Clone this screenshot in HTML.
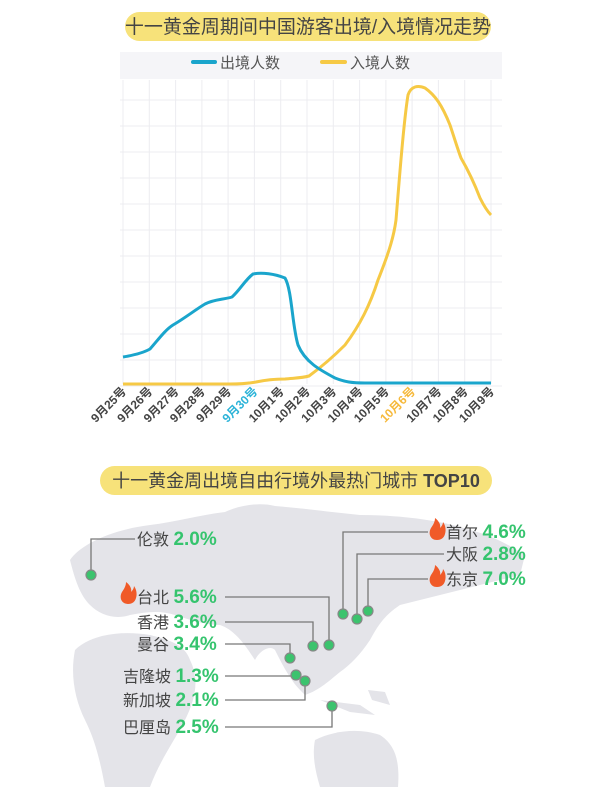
<!DOCTYPE html>
<html><head><meta charset="utf-8"><style>
html,body{margin:0;padding:0;background:#fff;}
svg{display:block;font-family:"Liberation Sans","Noto Sans CJK SC",sans-serif;}
</style></head><body>
<svg width="600" height="787" viewBox="0 0 600 787" xmlns="http://www.w3.org/2000/svg">
<rect x="125" y="12" width="366" height="29" rx="14.5" fill="#f7e27a"/>
<text x="308" y="33" font-size="19" fill="#444" text-anchor="middle">十一黄金周期间中国游客出境/入境情况走势</text>
<rect x="120" y="52" width="382" height="27" fill="#f5f5f8"/>
<line x1="193" y1="62" x2="215" y2="62" stroke="#1aa5cc" stroke-width="4" stroke-linecap="round"/>
<text x="220" y="68" font-size="15" fill="#555">出境人数</text>
<line x1="322" y1="62" x2="345" y2="62" stroke="#f6c945" stroke-width="4" stroke-linecap="round"/>
<text x="350" y="68" font-size="15" fill="#555">入境人数</text>
<g stroke="#ececf0" stroke-width="1">
<line x1="123" y1="80" x2="123" y2="384"/><line x1="149.3" y1="80" x2="149.3" y2="384"/><line x1="175.6" y1="80" x2="175.6" y2="384"/><line x1="201.9" y1="80" x2="201.9" y2="384"/><line x1="228.1" y1="80" x2="228.1" y2="384"/><line x1="254.4" y1="80" x2="254.4" y2="384"/><line x1="280.7" y1="80" x2="280.7" y2="384"/><line x1="307" y1="80" x2="307" y2="384"/><line x1="333.3" y1="80" x2="333.3" y2="384"/><line x1="359.6" y1="80" x2="359.6" y2="384"/><line x1="385.9" y1="80" x2="385.9" y2="384"/><line x1="412.1" y1="80" x2="412.1" y2="384"/><line x1="438.4" y1="80" x2="438.4" y2="384"/><line x1="464.7" y1="80" x2="464.7" y2="384"/><line x1="491" y1="80" x2="491" y2="384"/>
<line x1="120" y1="100" x2="502" y2="100"/><line x1="120" y1="126" x2="502" y2="126"/><line x1="120" y1="152" x2="502" y2="152"/><line x1="120" y1="178" x2="502" y2="178"/><line x1="120" y1="204" x2="502" y2="204"/><line x1="120" y1="230" x2="502" y2="230"/><line x1="120" y1="256" x2="502" y2="256"/><line x1="120" y1="282" x2="502" y2="282"/><line x1="120" y1="308" x2="502" y2="308"/><line x1="120" y1="334" x2="502" y2="334"/><line x1="120" y1="360" x2="502" y2="360"/><line x1="120" y1="386" x2="502" y2="386"/>
</g>
<path d="M123,384 L230,384 C245,384 250,383 256,382 C265,380 272,379 285,379 C295,378 302,378 309,376 C320,368 330,360 345,345 C360,325 370,305 378,280 C390,250 394,235 396,220 C400,170 404,120 408,95 C411,86 418,85 425,88 C435,95 442,105 450,125 C455,140 458,150 461,158 C468,170 475,185 480,198 C485,208 488,212 491,215" fill="none" stroke="#f6c945" stroke-width="3" stroke-linejoin="round"/>
<path d="M123,357 C135,355 143,353 150,349 C158,340 165,330 173,325 C185,318 195,310 205,304 C215,299 222,300 232,297 C240,290 245,280 253,274 C262,272 275,274 285,278 C292,290 292,325 298,345 C305,362 320,370 335,378 C345,382 352,383 365,383 L491,383" fill="none" stroke="#1aa5cc" stroke-width="3" stroke-linejoin="round"/>
<g font-size="12" fill="#444" text-anchor="end" font-weight="bold">
<text transform="translate(127,392) rotate(-45)">9月25号</text>
<text transform="translate(153.3,392) rotate(-45)">9月26号</text>
<text transform="translate(179.6,392) rotate(-45)">9月27号</text>
<text transform="translate(205.9,392) rotate(-45)">9月28号</text>
<text transform="translate(232.1,392) rotate(-45)">9月29号</text>
<text transform="translate(258.4,392) rotate(-45)" fill="#2bb3d8">9月30号</text>
<text transform="translate(284.7,392) rotate(-45)">10月1号</text>
<text transform="translate(311,392) rotate(-45)">10月2号</text>
<text transform="translate(337.3,392) rotate(-45)">10月3号</text>
<text transform="translate(363.6,392) rotate(-45)">10月4号</text>
<text transform="translate(389.9,392) rotate(-45)">10月5号</text>
<text transform="translate(416.1,392) rotate(-45)" fill="#f6b93b">10月6号</text>
<text transform="translate(442.4,392) rotate(-45)">10月7号</text>
<text transform="translate(468.7,392) rotate(-45)">10月8号</text>
<text transform="translate(495,392) rotate(-45)">10月9号</text>
</g>
<rect x="100" y="466" width="392" height="29" rx="14.5" fill="#f7e27a"/>
<text x="296" y="487" font-size="18" fill="#444" text-anchor="middle">十一黄金周出境自由行境外最热门城市 <tspan font-weight="bold">TOP10</tspan></text>
<g fill="#e4e4e9">
<path d="M70,560 C80,545 110,530 150,525 C175,522 200,515 225,512 C240,505 260,502 275,506 C300,508 330,512 360,515 C400,515 440,520 470,530 C490,535 510,545 525,555 L520,575 C500,580 480,585 460,590 C440,595 420,600 400,605 C385,615 378,625 370,640 C360,655 350,665 340,672 C330,680 320,690 305,695 C300,690 295,685 292,680 C285,670 280,660 275,650 C270,645 260,650 255,660 C245,645 235,630 220,625 C205,625 190,620 175,615 C160,610 145,612 130,615 C115,620 100,615 90,605 C80,595 75,580 70,560 Z"/>
<path d="M75,650 C90,635 120,630 150,635 C170,640 185,645 190,660 C200,680 195,700 185,720 C175,740 160,760 150,787 L105,787 C100,760 95,740 85,720 C75,700 70,675 75,650 Z"/>
<path d="M315,740 C335,730 360,728 380,735 C395,745 400,760 398,787 L320,787 C315,770 312,755 315,740 Z"/>
<path d="M320,700 L360,705 L375,715 L350,712 Z"/>
<path d="M368,690 L385,692 L390,705 L372,700 Z"/>
<ellipse cx="85" cy="565" rx="6" ry="10"/>
</g>
<g stroke="#777" stroke-width="1.3" fill="none">
<polyline points="135,539 91,539 91,575"/>
<polyline points="225,597 329,597 329,645"/>
<polyline points="225,622 313,622 313,646"/>
<polyline points="225,644 290,644 290,658"/>
<polyline points="225,676 296,676"/>
<polyline points="225,700 305,700 305,681"/>
<polyline points="225,727 332,727 332,706"/>
<polyline points="428,532 343,532 343,614"/>
<polyline points="444,554 357,554 357,619"/>
<polyline points="428,579 368,579 368,611"/>
</g>
<g fill="#3cc36e" stroke="#888" stroke-width="1.2">
<circle cx="91" cy="575" r="5"/><circle cx="329" cy="645" r="5"/><circle cx="313" cy="646" r="5"/><circle cx="290" cy="658" r="5"/><circle cx="296" cy="675" r="5"/><circle cx="305" cy="681" r="5"/><circle cx="332" cy="706" r="5"/><circle cx="343" cy="614" r="5"/><circle cx="357" cy="619" r="5"/><circle cx="368" cy="611" r="5"/>
</g>
<g>
<path d="M128,604 C121,604 119,597 122,592 C124,589 126,586 126,582 C130,585 132,589 131,592 C133,590 134,588 134,586 C137,590 137,595 136,598 C135,602 132,604 128,604 Z" fill="#f05a28"/>
<path d="M437,540 C430,540 428,533 431,528 C433,525 435,522 435,518 C439,521 441,525 440,528 C442,526 443,524 443,522 C446,526 446,531 445,534 C444,538 441,540 437,540 Z" fill="#f05a28"/>
<path d="M437,587 C430,587 428,580 431,575 C433,572 435,569 435,565 C439,568 441,572 440,575 C442,573 443,571 443,569 C446,573 446,578 445,581 C444,585 441,587 437,587 Z" fill="#f05a28"/>
</g>
<g font-size="16" fill="#444">
<text x="137" y="545">伦敦 <tspan fill="#35c46e" font-size="19" font-weight="bold">2.0%</tspan></text>
<text x="137" y="603">台北 <tspan fill="#35c46e" font-size="19" font-weight="bold">5.6%</tspan></text>
<text x="137" y="628">香港 <tspan fill="#35c46e" font-size="19" font-weight="bold">3.6%</tspan></text>
<text x="137" y="650">曼谷 <tspan fill="#35c46e" font-size="19" font-weight="bold">3.4%</tspan></text>
<text x="123" y="682">吉隆坡 <tspan fill="#35c46e" font-size="19" font-weight="bold">1.3%</tspan></text>
<text x="123" y="706">新加坡 <tspan fill="#35c46e" font-size="19" font-weight="bold">2.1%</tspan></text>
<text x="123" y="733">巴厘岛 <tspan fill="#35c46e" font-size="19" font-weight="bold">2.5%</tspan></text>
<text x="446" y="538">首尔 <tspan fill="#35c46e" font-size="19" font-weight="bold">4.6%</tspan></text>
<text x="446" y="560">大阪 <tspan fill="#35c46e" font-size="19" font-weight="bold">2.8%</tspan></text>
<text x="446" y="585">东京 <tspan fill="#35c46e" font-size="19" font-weight="bold">7.0%</tspan></text>
</g>
</svg>
</body></html>
